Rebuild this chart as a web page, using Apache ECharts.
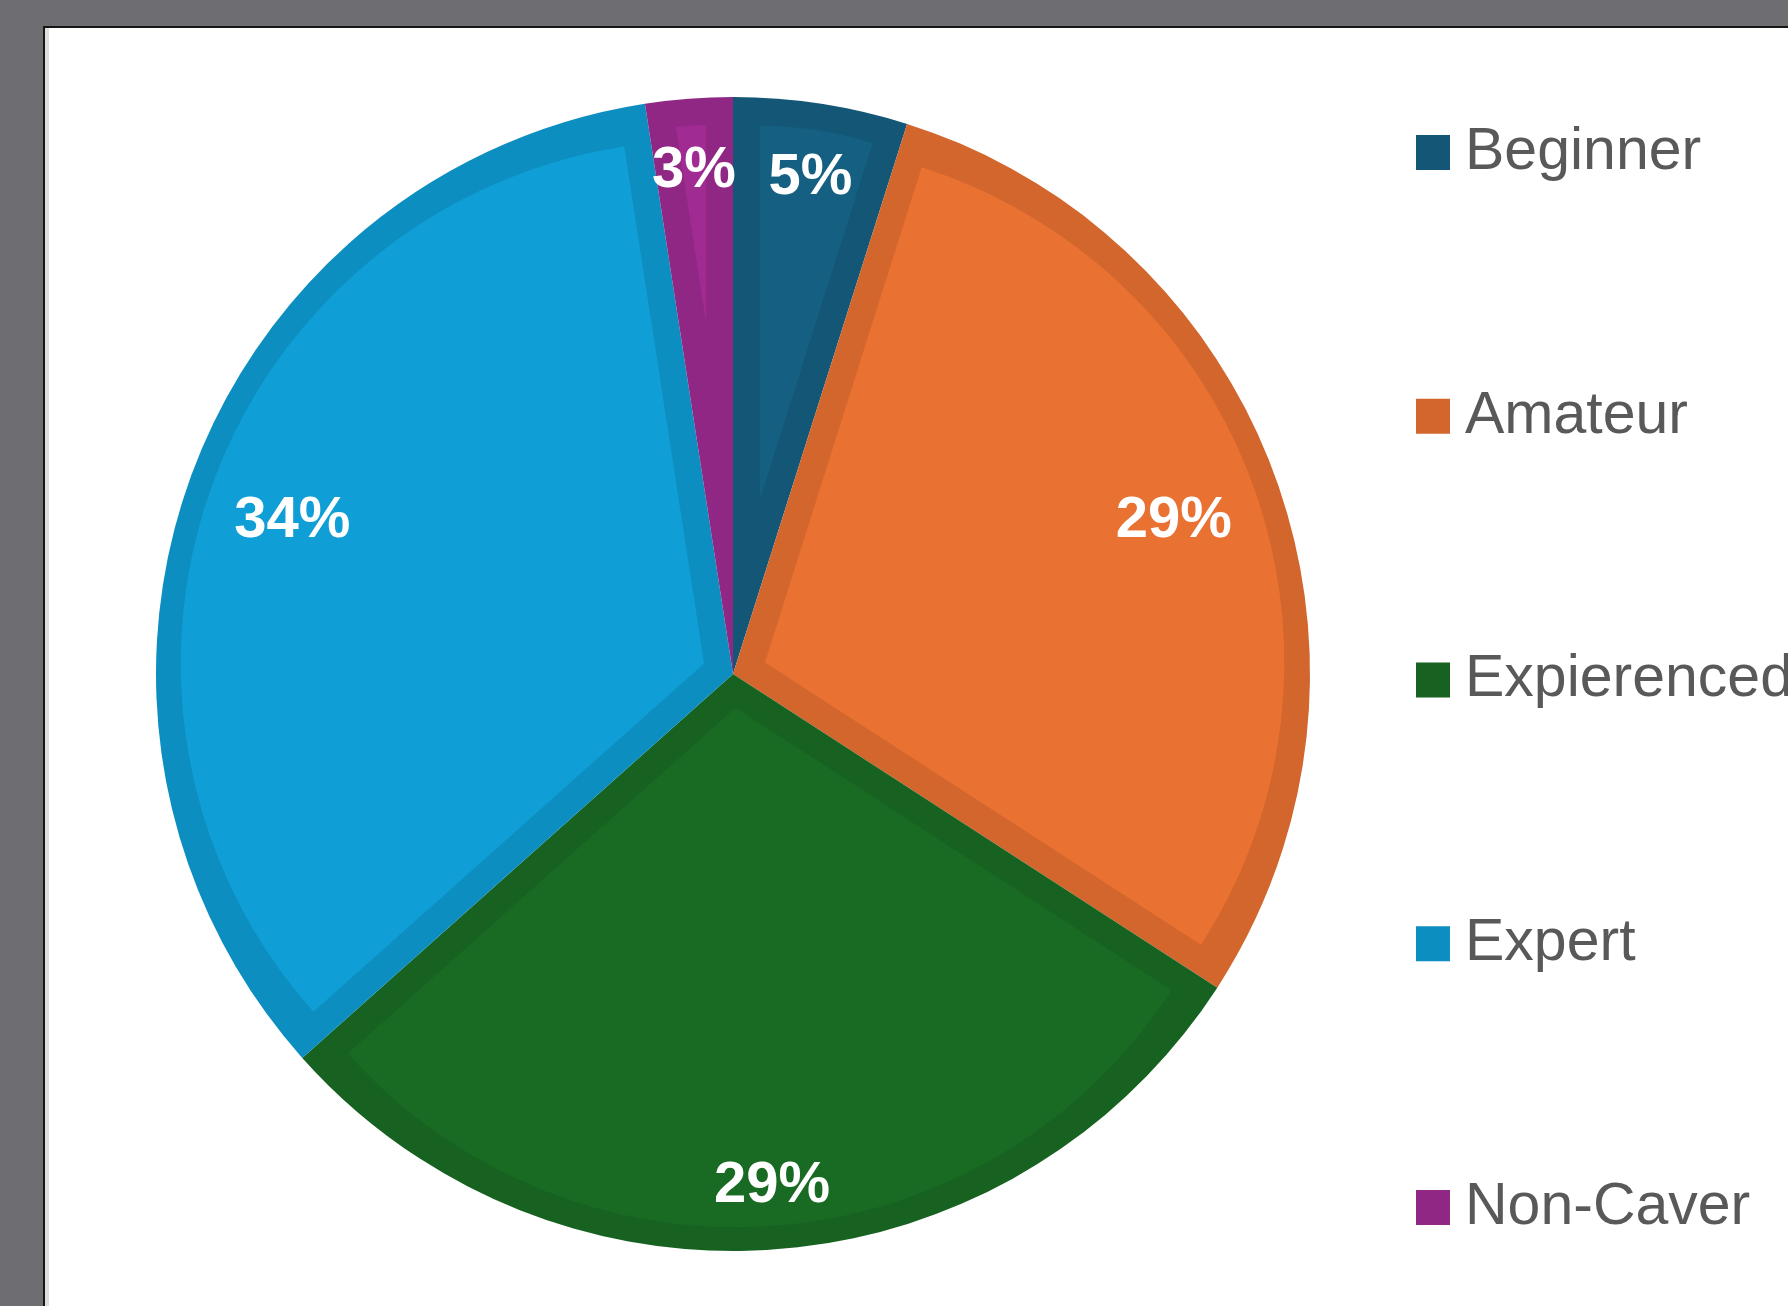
<!DOCTYPE html>
<html>
<head>
<meta charset="utf-8">
<title>Caving experience</title>
<script src="https://cdn.jsdelivr.net/npm/echarts@6/dist/echarts.min.js"></script>
<style>
  html, body { margin: 0; padding: 0; width: 1788px; height: 1306px; overflow: hidden; background: #6e6d72; }
  .sheet {
    position: absolute; left: 43px; top: 26px; width: 1800px; height: 1300px;
    background: #fff; border-left: 2px solid #161616; border-top: 2px solid #161616;
    box-shadow: inset 4px 0 0 #dedede;
  }
  #chart { position: absolute; left: 0; top: 0; width: 1788px; height: 1306px; }
</style>
</head>
<body>
<div class="sheet"></div>
<div id="chart"></div>
<script>
const categories = ['Beginner', 'Amateur', 'Expierenced', 'Expert', 'Non-Caver'];
const counts = [2, 12, 12, 14, 1];
const fillColors = ['#156082', '#e97132', '#196b24', '#0f9ed5', '#a02b93'];
const edgeColors = ['#135675', '#d2662d', '#176221', '#0d8ec0', '#902784'];

const pieCenter = [733, 674];
const pieRadius = 577;
const edgeWidth = 27;
const labelMargin = 49;
const labelHalfHeight = 15;

const total = counts.reduce((a, b) => a + b, 0);

// Excel draws the slice outline on the inside. Fake it: full pie in the darker
// shade, then a lighter copy of each slice pulled in by the outline width.
function insetSlice(i) {
  const before = counts.slice(0, i).reduce((a, b) => a + b, 0);
  const theta = counts[i] / total * 2 * Math.PI;
  const mid = before / total * 2 * Math.PI + theta / 2;
  const d = edgeWidth / Math.sin(theta / 2);
  const inner = pieRadius - edgeWidth;
  const r = -d * Math.cos(theta / 4) +
    Math.sqrt(inner * inner - Math.pow(d * Math.sin(theta / 4), 2));
  return {
    type: 'pie',
    silent: true,
    center: [pieCenter[0] + d * Math.sin(mid), pieCenter[1] - d * Math.cos(mid)],
    radius: Math.max(r, 0),
    startAngle: 90,
    label: { show: false },
    labelLine: { show: false },
    emphasis: { disabled: true },
    data: counts.map((v, j) => ({
      value: v,
      name: categories[j],
      itemStyle: { color: j === i ? fillColors[i] : 'rgba(0,0,0,0)', borderWidth: 0 },
    })),
  };
}

const chart = echarts.init(document.getElementById('chart'));

chart.setOption({
  animation: false,
  legend: {
    orient: 'vertical',
    left: 1416,
    top: 123,
    padding: 0,
    icon: 'rect',
    itemWidth: 34,
    itemHeight: 35,
    itemGap: 204.75,
    selectedMode: false,
    data: categories,
    itemStyle: { borderWidth: 0 },
    textStyle: {
      fontFamily: 'Liberation Sans',
      fontSize: 59,
      color: '#595959',
      lineHeight: 59,
      padding: [0, 0, 0, 10],
    },
  },
  series: [
    {
      type: 'pie',
      silent: true,
      center: pieCenter,
      radius: pieRadius,
      startAngle: 90,
      label: { show: false },
      labelLine: { show: false },
      emphasis: { disabled: true },
      data: counts.map((v, j) => ({
        value: v,
        name: categories[j],
        itemStyle: { color: edgeColors[j], borderWidth: 0 },
      })),
    },
    ...counts.map((v, i) => insetSlice(i)),
    {
      // labels only, placed "inside end" like Excel
      type: 'pie',
      silent: true,
      z: 5,
      center: pieCenter,
      radius: pieRadius,
      startAngle: 90,
      percentPrecision: 0,
      itemStyle: { color: 'rgba(0,0,0,0)', borderWidth: 0 },
      label: {
        show: true,
        position: 'inside',
        formatter: '{d}%',
        color: '#fff',
        fontFamily: 'Liberation Sans',
        fontWeight: 'bold',
        fontSize: 58,
        textBorderWidth: 0,
      },
      labelLine: { show: false },
      emphasis: { disabled: true },
      labelLayout: function (params) {
        const rect = params.labelRect;
        const cx = rect.x + rect.width / 2;
        const cy = rect.y + rect.height / 2;
        const len = Math.hypot(cx - pieCenter[0], cy - pieCenter[1]);
        const ux = (cx - pieCenter[0]) / len;
        const uy = (cy - pieCenter[1]) / len;
        const half = rect.width / 2 * Math.abs(ux) + labelHalfHeight * Math.abs(uy);
        const dist = pieRadius - labelMargin - half;
        return { x: pieCenter[0] + ux * dist, y: pieCenter[1] + uy * dist + 5 };
      },
      data: counts.map((v, j) => ({ value: v, name: categories[j] })),
    },
  ],
});
</script>
</body>
</html>
